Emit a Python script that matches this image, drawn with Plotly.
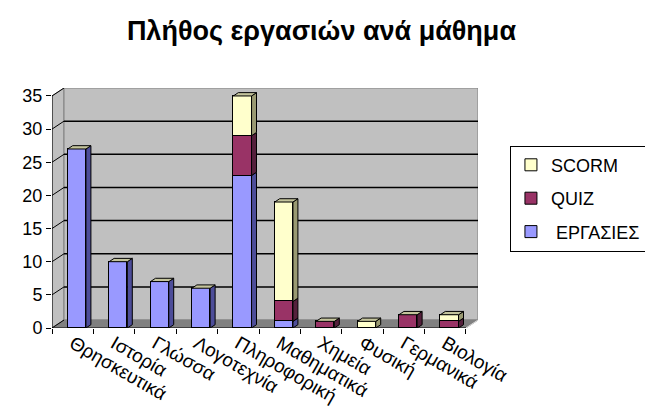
import plotly.graph_objects as go

# ---- data ----
categories = ["Θρησκευτικά", "Ιστορία", "Γλώσσα", "Λογοτεχνία", "Πληροφορική",
              "Μαθηματικά", "Χημεία", "Φυσική", "Γερμανικά", "Βιολογία"]
ergasies = [27, 10, 7, 6, 23, 1, 0, 0, 0, 0]
quiz = [0, 0, 0, 0, 6, 3, 1, 0, 2, 1]
scorm = [0, 0, 0, 0, 6, 15, 0, 1, 0, 1]
y_ticks = [0, 5, 10, 15, 20, 25, 30, 35]

series = [
    (" ΕΡΓΑΣΙΕΣ", ergasies, "#9999FF", "#4D4D99", 3),
    ("QUIZ", quiz, "#993366", "#55203C", 2),
    ("SCORM", scorm, "#FFFFCC", "#9A9A72", 1),
]
TOP_FACE = "#C4C49C"

# ---- 3D-look geometry (style constants, in axis units) ----
BAR_W = 0.44
BAR_OFF = -0.12
DDX, DDY = 0.12, 0.5      # bar depth
WDX, WDY = 0.29, 1.2      # wall depth
YMAX = 35
n = len(categories)
xs = list(range(n))

fig = go.Figure()
for name, vals, col, _, rank in series:
    fig.add_trace(go.Bar(
        x=xs, y=[v if v else None for v in vals], name=name,
        width=BAR_W, offset=BAR_OFF, legendgroup=name, legendrank=rank,
        marker=dict(color=col, line=dict(color="black", width=1)),
    ))

shapes = []
x0w, x1w = -0.5, n - 0.5
# left wall
shapes.append(dict(type="path", layer="below",
                   path=f"M{x0w},0 L{x0w+WDX},{WDY} L{x0w+WDX},{YMAX+WDY} L{x0w},{YMAX} Z",
                   fillcolor="#C0C0C0", line=dict(color="#808080", width=1)))
# back wall
shapes.append(dict(type="rect", layer="below", x0=x0w+WDX, x1=x1w+WDX, y0=WDY, y1=YMAX+WDY,
                   fillcolor="#C0C0C0", line=dict(color="#808080", width=1)))
# floor
shapes.append(dict(type="path", layer="below",
                   path=f"M{x0w},0 L{x1w},0 L{x1w+WDX},{WDY} L{x0w+WDX},{WDY} Z",
                   fillcolor="#808080", line=dict(color="#808080", width=1)))
# gridlines
for k in y_ticks:
    if 0 < k < YMAX:
        shapes.append(dict(type="line", layer="below", x0=x0w+WDX, x1=x1w+WDX, y0=k+WDY, y1=k+WDY,
                           line=dict(color="black", width=1.5)))
    shapes.append(dict(type="line", layer="below", x0=x0w, x1=x0w+WDX, y0=k, y1=k+WDY,
                       line=dict(color="black", width=1)))
# axis lines
shapes.append(dict(type="line", x0=x0w, x1=x0w, y0=0, y1=YMAX, line=dict(color="black", width=1)))
shapes.append(dict(type="line", x0=x0w, x1=x1w, y0=0, y1=0, line=dict(color="black", width=1)))
shapes.append(dict(type="line", layer="below", x0=x1w, x1=x1w+WDX, y0=0, y1=WDY,
                   line=dict(color="#E0E0E0", width=1)))

# bar side and top faces
for i in xs:
    xl = i + BAR_OFF
    xr = xl + BAR_W
    base = 0
    for name, vals, col, side, _ in series:
        v = vals[i]
        if not v:
            continue
        t = base + v
        shapes.append(dict(type="path", layer="above",
                           path=f"M{xr},{base} L{xr+DDX},{base+DDY} L{xr+DDX},{t+DDY} L{xr},{t} Z",
                           fillcolor=side, line=dict(color="black", width=1)))
        base = t
    if base > 0:
        shapes.append(dict(type="path", layer="above",
                           path=f"M{xl},{base} L{xl+DDX},{base+DDY} L{xr+DDX},{base+DDY} L{xr},{base} Z",
                           fillcolor=TOP_FACE, line=dict(color="black", width=1)))

fig.update_layout(
    width=653, height=414,
    margin=dict(l=44, r=183, t=80, b=94),
    paper_bgcolor="white", plot_bgcolor="white",
    barmode="stack", bargap=0,
    font=dict(family="Liberation Sans, Arial, sans-serif", color="black"),
    title=dict(text="<b>Πλήθος εργασιών ανά μάθημα</b>", x=0.48, xref="container",
               xanchor="center", y=0.945, yref="container", yanchor="middle",
               font=dict(size=27, color="black")),
    shapes=shapes,
    showlegend=True,
    legend=dict(x=1.075, xanchor="left", y=0.76, yanchor="top",
                traceorder="grouped", tracegroupgap=7,
                bordercolor="black", borderwidth=1, bgcolor="white",
                font=dict(size=18), itemwidth=30),
)
fig.update_xaxes(range=[x0w, x1w + WDX], tickvals=xs, ticktext=categories,
                 tickangle=30, ticks="", showgrid=False, zeroline=False, showline=False,
                 tickfont=dict(size=19),
                 minor=dict(ticks="outside", tick0=-0.5, dtick=1, ticklen=5,
                            tickcolor="black", showgrid=False))
fig.update_yaxes(range=[0, YMAX + WDY], tickvals=y_ticks, ticks="outside", ticklen=5,
                 tickcolor="black", showgrid=False, zeroline=False, showline=False,
                 tickfont=dict(size=18))

fig.write_html("out.html")
